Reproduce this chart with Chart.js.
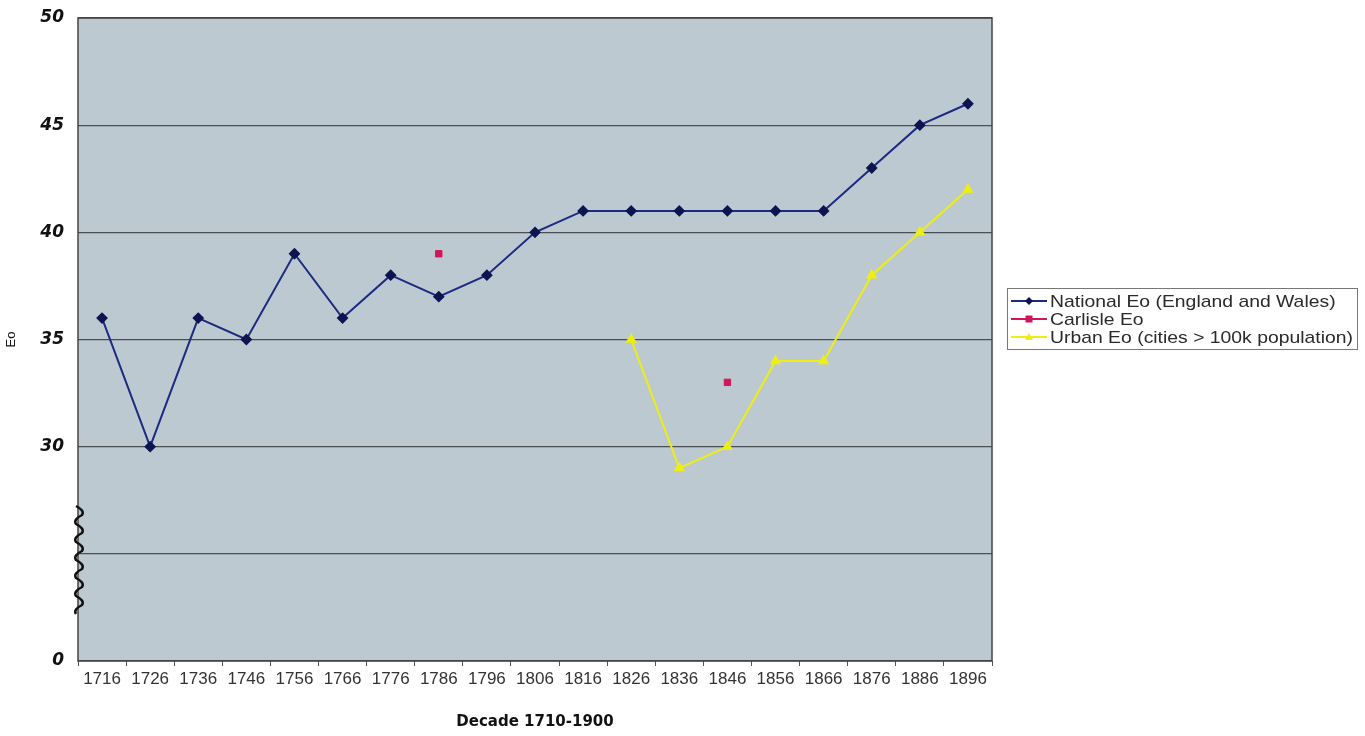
<!DOCTYPE html>
<html>
<head>
<meta charset="utf-8">
<script src="https://cdn.jsdelivr.net/npm/chart.js@4"></script>
<style>
  html, body { margin: 0; padding: 0; background: #fff; }
  #wrap { width: 1365px; height: 736px; }
</style>
</head>
<body>
<div id="wrap"><canvas id="eo"></canvas></div>
<script>
var decades = ["1716", "1726", "1736", "1746", "1756", "1766", "1776", "1786", "1796", "1806",
               "1816", "1826", "1836", "1846", "1856", "1866", "1876", "1886", "1896"];
var nationalEo = [36, 30, 36, 35, 39, 36, 38, 37, 38, 40, 41, 41, 41, 41, 41, 41, 43, 45, 46];
var carlisleEo = [null, null, null, null, null, null, null, 39, null, null, null, null, null, 33, null, null, null, null, null];
var urbanEo = [null, null, null, null, null, null, null, null, null, null, null, 35, 29, 30, 34, 34, 38, 40, 42];
var yTicks = { 20: "0", 25: "", 30: "30", 35: "35", 40: "40", 45: "45", 50: "50" };

// plot background, axis break squiggle and legend box
var decor = {
    id: 'decor',
    beforeDraw: function (chart) {
        var a = chart.chartArea, ctx = chart.ctx;
        ctx.save();
        ctx.fillStyle = '#bdc9d1';
        ctx.fillRect(a.left, a.top, a.right - a.left, a.bottom - a.top);
        ctx.restore();
    },
    afterDraw: function (chart) {
        var a = chart.chartArea, ctx = chart.ctx;
        ctx.save();
        ctx.strokeStyle = '#444';
        ctx.lineWidth = 1.5;
        ctx.strokeRect(a.left, a.top, a.right - a.left, a.bottom - a.top);

        // wavy axis break on the y axis
        ctx.strokeStyle = '#111';
        ctx.lineWidth = 2.5;
        ctx.beginPath();
        var x0 = a.left + 1, y = 506, k = 0;
        ctx.moveTo(x0 - 3, y);
        while (y < 614) {
            var dx = (k % 2 === 0) ? 6 : -6;
            ctx.quadraticCurveTo(x0 + dx, y + 4.5, x0 + (k % 2 === 0 ? 3 : -3), y + 9);
            y += 9;
            k++;
        }
        ctx.stroke();

        // legend
        var lx = 1007, ly = 288, lw = 350, lh = 61;
        ctx.fillStyle = '#fff';
        ctx.fillRect(lx, ly, lw, lh);
        ctx.strokeStyle = '#777';
        ctx.lineWidth = 1;
        ctx.strokeRect(lx + 0.5, ly + 0.5, lw, lh);
        ctx.font = '17px "Liberation Sans", Arial, sans-serif';
        ctx.textBaseline = 'middle';
        var longest = 0;
        chart.data.datasets.forEach(function (ds) {
            longest = Math.max(longest, ctx.measureText(ds.label).width);
        });
        var sx = 303 / longest;
        chart.data.datasets.forEach(function (ds, i) {
            var yy = ly + 13 + i * 18;
            ctx.strokeStyle = ds.borderColor;
            ctx.lineWidth = 2;
            ctx.beginPath();
            ctx.moveTo(lx + 4, yy);
            ctx.lineTo(lx + 40, yy);
            ctx.stroke();
            ctx.fillStyle = ds.pointBackgroundColor;
            ctx.beginPath();
            if (ds.pointStyle === 'rectRot') {
                ctx.moveTo(lx + 22, yy - 4); ctx.lineTo(lx + 26, yy); ctx.lineTo(lx + 22, yy + 4); ctx.lineTo(lx + 18, yy);
            } else if (ds.pointStyle === 'rect') {
                ctx.rect(lx + 18.5, yy - 3.5, 7, 7);
            } else {
                ctx.moveTo(lx + 22, yy - 4); ctx.lineTo(lx + 26, yy + 3); ctx.lineTo(lx + 18, yy + 3);
            }
            ctx.closePath();
            ctx.fill();
            ctx.save();
            ctx.translate(lx + 43, yy + 1);
            ctx.scale(sx, 1);
            ctx.fillStyle = '#2a2a2a';
            ctx.fillText(ds.label, 0, 0);
            ctx.restore();
        });
        ctx.restore();
    }
};

var eoChart = new Chart(document.getElementById('eo'), {
    type: 'line',
    data: {
        labels: decades,
        datasets: [
            {
                label: 'National Eo (England and Wales)',
                data: nationalEo,
                borderColor: '#1c2a80',
                backgroundColor: '#0d1450',
                pointBackgroundColor: '#0d1450',
                pointBorderColor: '#0d1450',
                pointStyle: 'rectRot',
                pointRadius: 4.5,
                borderWidth: 2,
                tension: 0
            },
            {
                label: 'Carlisle Eo',
                data: carlisleEo,
                borderColor: '#d2145a',
                backgroundColor: '#d2145a',
                pointBackgroundColor: '#d2145a',
                pointBorderColor: '#d2145a',
                pointStyle: 'rect',
                pointRadius: 4.5,
                showLine: false
            },
            {
                label: 'Urban Eo (cities > 100k population)',
                data: urbanEo,
                borderColor: '#eeee10',
                backgroundColor: '#eeee10',
                pointBackgroundColor: '#eeee10',
                pointBorderColor: '#eeee10',
                pointStyle: 'triangle',
                pointRadius: 4.5,
                borderWidth: 2,
                tension: 0
            }
        ]
    },
    options: {
        responsive: true,
        maintainAspectRatio: false,
        animation: false,
        layout: { padding: { top: 18, right: 373, left: 0, bottom: 0 } },
        plugins: {
            legend: { display: false },
            tooltip: { enabled: false }
        },
        scales: {
            x: {
                offset: true,
                grid: { offset: true, drawOnChartArea: false, drawTicks: true, tickLength: 5, color: '#555' },
                border: { display: false },
                ticks: { color: '#333', font: { family: '"Liberation Sans", Arial, sans-serif', size: 17 }, maxRotation: 0, autoSkip: false, padding: 3 },
                title: { display: true, text: 'Decade 1710-1900', color: '#111', font: { family: '"DejaVu Sans", sans-serif', size: 15, weight: 'bold' }, padding: { top: 4, bottom: 5 } },
                afterFit: function (s) { s.height = 75; }
            },
            y: {
                min: 20,
                max: 50,
                ticks: {
                    stepSize: 5,
                    color: '#111',
                    padding: 14,
                    font: { family: '"DejaVu Sans", sans-serif', size: 17, weight: 'bold', style: 'italic' },
                    callback: function (v) { return yTicks[v]; }
                },
                grid: { color: '#4a4f52', lineWidth: 1.2, drawTicks: false },
                border: { display: false },
                title: { display: true, text: 'Eo', color: '#111', font: { family: '"Liberation Sans", Arial, sans-serif', size: 13 } },
                afterFit: function (s) { s.width = 78; s.paddingTop = 0; s.paddingBottom = 0; }
            }
        }
    },
    plugins: [decor]
});
</script>
</body>
</html>
